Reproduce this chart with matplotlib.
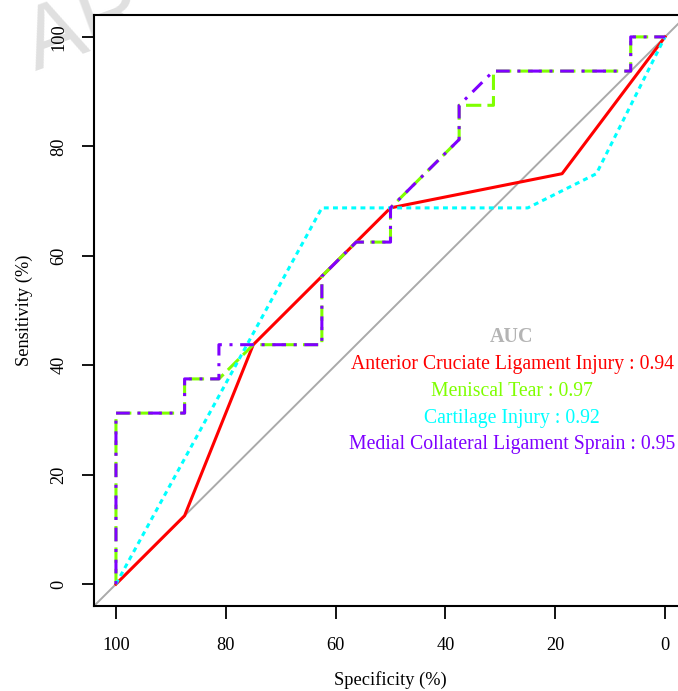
import matplotlib.pyplot as plt

plt.rcParams['font.family'] = ['Liberation Serif', 'DejaVu Serif']

# ROC points, specificity (%) vs sensitivity (%)
acl_spec = [100, 87.5, 75, 62.5, 50, 18.75, 0]
acl_sens = [0, 12.5, 43.75, 56.25, 68.75, 75, 100]

men_spec = [100, 100, 87.5, 87.5, 81.25, 75, 62.5, 62.5, 56.25, 50, 50,
            37.5, 37.5, 31.25, 31.25, 6.25, 6.25, 0]
men_sens = [0, 31.25, 31.25, 37.5, 37.5, 43.75, 43.75, 56.25, 62.5, 62.5, 68.75,
            81.25, 87.5, 87.5, 93.75, 93.75, 100, 100]

cart_spec = [100, 62.5, 25, 12.5, 0]
cart_sens = [0, 68.75, 68.75, 75, 100]

mcl_spec = [100, 100, 87.5, 87.5, 81.25, 81.25, 62.5, 62.5, 56.25, 50, 50,
            37.5, 37.5, 31.25, 6.25, 6.25, 0]
mcl_sens = [0, 31.25, 31.25, 37.5, 37.5, 43.75, 43.75, 56.25, 62.5, 62.5, 68.75,
            81.25, 87.5, 93.75, 93.75, 100, 100]

names = ["Anterior Cruciate Ligament Injury", "Meniscal Tear",
         "Cartilage Injury", "Medial Collateral Ligament Sprain"]
aucs = [0.94, 0.97, 0.92, 0.95]
colors = ["#ff0000", "#7fff00", "#00ffff", "#7f00ff"]

fig = plt.figure(figsize=(6.78, 6.91), dpi=100)
# axes run past the right edge of the figure, like the cropped original
ax = fig.add_axes([94 / 678, 85 / 691, 593 / 678, 591 / 691])

# faint watermark, mostly hidden behind the plot area
wm = fig.text(36 / 678, 1 - 72 / 691, "AR", rotation=20, rotation_mode="anchor",
              ha="left", va="baseline", fontsize=64,
              color="#e0e0e0", family="Liberation Sans")
wm.set_zorder(-1)

ax.plot([104, -4], [-4, 104], color="#aaaaaa", lw=1.4, zorder=1)

lw = 2.2
ax.plot(acl_spec, acl_sens, color=colors[0], lw=lw, zorder=2)
ax.plot(men_spec, men_sens, color=colors[1], lw=lw, ls=(0, (5, 2)), zorder=3)
ax.plot(cart_spec, cart_sens, color=colors[2], lw=lw, ls=(0, (1.6, 1.4)), zorder=4)
ax.plot(mcl_spec, mcl_sens, color=colors[3], lw=lw, ls=(0, (1, 2.5, 4.5, 2.5)), zorder=5)

ax.set_xlim(104, -4)
ax.set_ylim(-4, 104)
ax.set_xticks([100, 80, 60, 40, 20, 0])
ax.set_yticks([0, 20, 40, 60, 80, 100])
ax.tick_params(direction="out", length=9, width=1.3, labelsize=13.2)
ax.tick_params(axis="x", pad=13.5)
ax.tick_params(axis="y", pad=10)
for lab in ax.get_yticklabels():
    lab.set_rotation(90)
    lab.set_va("center")
for s in ax.spines.values():
    s.set_linewidth(1.5)

ax.set_xlabel("Specificity (%)", fontsize=13.2, labelpad=12)
ax.set_ylabel("Sensitivity (%)", fontsize=13.2, labelpad=13)

x0 = 512 / 678
y_px = [337, 364, 391, 418, 445]
fig.text(x0, 1 - y_px[0] / 691, "AUC", ha="center", va="center",
         fontsize=14.5, fontweight="bold", color="#b4b4b4")
for i in range(4):
    fig.text(x0, 1 - y_px[i + 1] / 691, f"{names[i]} : {aucs[i]:.2f}",
             ha="center", va="center", fontsize=14.2, color=colors[i])

fig.savefig("out.png", dpi=100)
